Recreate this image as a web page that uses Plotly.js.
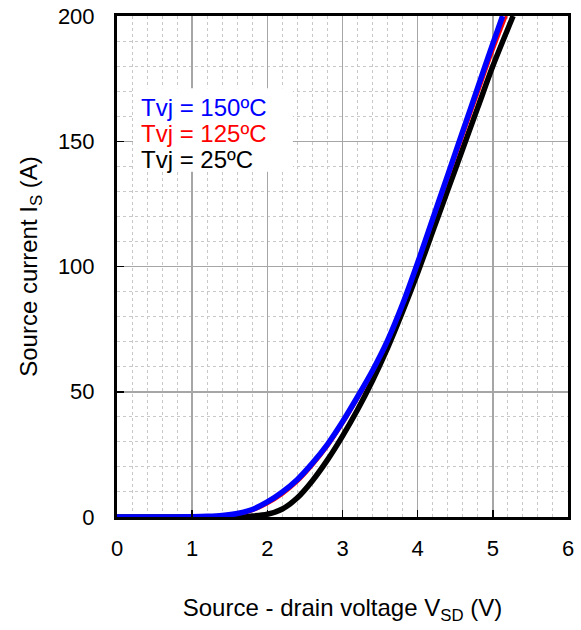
<!DOCTYPE html>
<html>
<head>
<meta charset="utf-8">
<script src="https://cdn.plot.ly/plotly-3.0.1.min.js"></script>
<style>html,body{margin:0;padding:0;background:#fff;}#chart{width:581px;height:630px;}</style>
</head>
<body>
<div id="chart"></div>
<script>
const v150 = [0,0.5,1.0,1.2,1.4,1.6,1.8,2.0,2.2,2.4,2.6,2.8,3.0,3.2,3.4,3.6,3.8,4.0,4.2,4.4,4.6,4.8,5.0,5.13];
const i150 = [0,0,0.1,0.25,0.6,1.4,3.0,6.0,10.0,15.0,21.5,29.0,38.0,48.0,58.5,70.5,85.0,101.5,119,136.5,154,171.5,189,200];
const v125 = [0,0.5,1.0,1.2,1.4,1.6,1.8,2.0,2.2,2.4,2.6,2.8,3.0,3.2,3.4,3.6,3.8,4.0,4.2,4.4,4.6,4.8,5.0,5.18];
const i125 = [0,0,0.08,0.2,0.5,1.1,2.5,5.2,9.0,14.0,20.5,28.0,37.0,47.0,57.8,69.8,84.3,100.8,118,135,152,169,186,200];
const v25  = [0,1.0,1.4,1.6,1.8,2.0,2.2,2.4,2.6,2.8,3.0,3.2,3.4,3.6,3.8,4.0,4.2,4.4,4.6,4.8,5.0,5.27];
const i25  = [0,0,0.05,0.15,0.4,1.1,3.2,7.7,14.5,22.8,32.3,42.8,54.5,67.5,82,97.5,114,130.5,147,163.5,180,200];
const legendLabels = ["Tvj = 150ºC","Tvj = 125ºC","Tvj = 25ºC"];
const colors = ["#0000ff","#ff0000","#000000"];

const traces = [
  {x:v25, y:i25, mode:'lines', line:{color:colors[2], width:5.5, shape:'spline', smoothing:0.8}, name:legendLabels[2]},
  {x:v125, y:i125, mode:'lines', line:{color:colors[1], width:3, shape:'spline', smoothing:0.8}, name:legendLabels[1]},
  {x:v150, y:i150, mode:'lines', line:{color:colors[0], width:5.5, shape:'spline', smoothing:0.8}, name:legendLabels[0]}
];

const fam = 'Arial, "Liberation Sans", sans-serif';
const tickFont = {family:fam, size:22, color:'#000'};
const titleFont = {family:fam, size:24, color:'#000'};
const legYs = [0.818, 0.765, 0.713];

const layout = {
  width:581, height:630,
  margin:{l:117, r:13, t:16, b:113},
  paper_bgcolor:'#fff', plot_bgcolor:'#fff',
  showlegend:false,
  font:tickFont,
  xaxis:{
    range:[0,6], dtick:1, tick0:0,
    showline:true, linecolor:'#000', linewidth:3, mirror:true,
    ticks:'inside', ticklen:7, tickwidth:1.5, tickcolor:'#000',
    showgrid:true, gridcolor:'#a6a6a6', gridwidth:1.5,
    zeroline:false,
    minor:{dtick:0.2, showgrid:true, gridcolor:'#c8c8c8', griddash:'dot', gridwidth:1},
    tickfont:tickFont, ticklabelstandoff:10,
    title:{text:'Source - drain voltage V<sub>SD</sub> (V)', font:titleFont, standoff:39}
  },
  yaxis:{
    range:[0,200], dtick:50, tick0:0,
    showline:true, linecolor:'#000', linewidth:3, mirror:true,
    ticks:'inside', ticklen:7, tickwidth:1.5, tickcolor:'#000',
    showgrid:true, gridcolor:'#a6a6a6', gridwidth:1.5,
    zeroline:false,
    minor:{dtick:10, showgrid:true, gridcolor:'#c8c8c8', griddash:'dot', gridwidth:1},
    tickfont:tickFont, ticklabelstandoff:15,
    title:{text:'Source current I<sub>S</sub> (A)', font:titleFont, standoff:14}
  },
  shapes:[{
    type:'rect', xref:'paper', yref:'paper', x0:0.0355, x1:0.39, y0:0.689, y1:0.856,
    fillcolor:'#fff', line:{width:0}, layer:'above'
  }],
  annotations: legendLabels.map((t,k)=>({
    xref:'paper', yref:'paper', x:0.049, y:legYs[k], xanchor:'left', yanchor:'middle',
    text:t, showarrow:false, align:'left',
    font:{family:fam, size:24, color:colors[k]}
  }))
};

Plotly.newPlot('chart', traces, layout, {displayModeBar:false, staticPlot:true});
</script>
</body>
</html>
